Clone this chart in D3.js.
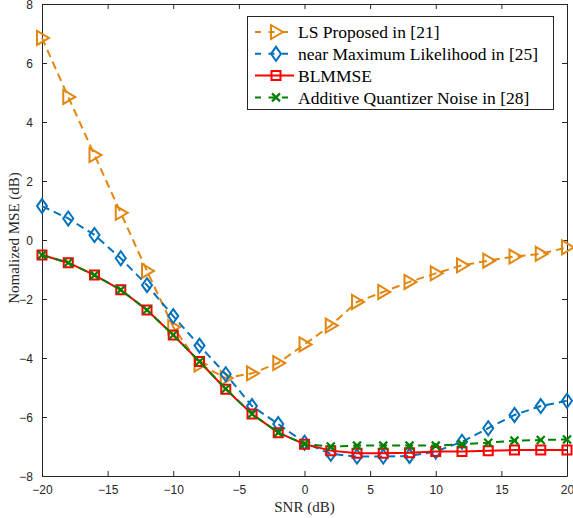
<!DOCTYPE html>
<html><head><meta charset="utf-8">
<script src="https://cdn.jsdelivr.net/npm/d3@7"></script>
<style>body{margin:0;background:#fff;} svg{display:block;}</style>
</head><body>
<svg id="c" width="573" height="518"></svg>
<script>
const snr = [-20,-18,-16,-14,-12,-10,-8,-6,-4,-2,0,2,4,6,8,10,12,14,16,18,20];
const lsProposed = [6.85,4.85,2.88,0.92,-1.05,-2.95,-4.22,-4.68,-4.52,-4.17,-3.54,-2.9,-2.1,-1.76,-1.42,-1.13,-0.86,-0.70,-0.56,-0.47,-0.25];
const nearML = [1.15,0.73,0.17,-0.62,-1.53,-2.58,-3.58,-4.55,-5.63,-6.24,-6.87,-7.25,-7.34,-7.34,-7.32,-7.17,-6.84,-6.38,-5.93,-5.63,-5.45];
const blmmse = [-0.51,-0.77,-1.19,-1.69,-2.37,-3.22,-4.12,-5.06,-5.9,-6.53,-6.92,-7.14,-7.23,-7.23,-7.21,-7.17,-7.17,-7.14,-7.12,-7.12,-7.12];
const aqn = [-0.51,-0.77,-1.19,-1.69,-2.37,-3.22,-4.12,-5.04,-5.9,-6.53,-6.92,-7.0,-6.97,-6.97,-6.97,-6.97,-6.92,-6.87,-6.8,-6.78,-6.76];
const xTicks = [-20,-15,-10,-5,0,5,10,15,20];
const yTicks = [-8,-6,-4,-2,0,2,4,6,8];
const seriesNames = ["LS Proposed in [21]","near Maximum Likelihood in [25]","BLMMSE","Additive Quantizer Noise in [28]"];

const svg = d3.select("#c");
const L=42, R=567, T=4, B=476;
const x = d3.scaleLinear().domain([-20,20]).range([L,R]);
const y = d3.scaleLinear().domain([-8,8]).range([B,T]);
const axisColor = "#262626";

const gx = svg.append("g").attr("transform",`translate(0,${B})`)
  .call(d3.axisBottom(x).tickValues(xTicks).tickSizeInner(-5).tickSizeOuter(0).tickPadding(9).tickFormat(d3.format("d")));
const gxt = svg.append("g").attr("transform",`translate(0,${T})`)
  .call(d3.axisTop(x).tickValues(xTicks).tickSizeInner(-5).tickSizeOuter(0).tickFormat(""));
const gy = svg.append("g").attr("transform",`translate(${L},0)`)
  .call(d3.axisLeft(y).tickValues(yTicks).tickSizeInner(-5).tickSizeOuter(0).tickPadding(9).tickFormat(d3.format("d")));
const gyr = svg.append("g").attr("transform",`translate(${R},0)`)
  .call(d3.axisRight(y).tickValues(yTicks).tickSizeInner(-5).tickSizeOuter(0).tickFormat(""));
[gx,gxt,gy,gyr].forEach(g=>{
  g.selectAll("path,line").attr("stroke",axisColor).attr("stroke-width",1);
  g.selectAll("text").attr("fill",axisColor).attr("font-family","Liberation Sans, Arial, sans-serif").attr("font-size",12);
});
gy.selectAll("text").attr("dy","0.35em");

svg.append("text").attr("x",(L+R)/2).attr("y",512).attr("text-anchor","middle")
  .attr("font-family","Liberation Serif, Times New Roman, serif").attr("font-size",15).attr("fill",axisColor).text("SNR (dB)");
svg.append("text").attr("transform",`translate(19,238) rotate(-90)`).attr("text-anchor","middle")
  .attr("font-family","Liberation Serif, Times New Roman, serif").attr("font-size",15).attr("fill",axisColor).text("Nomalized MSE (dB)");

const series = [
  {name:seriesNames[0], vals:lsProposed, color:"#E3860F", dash:"8,5", marker:"tri"},
  {name:seriesNames[1], vals:nearML, color:"#0072BD", dash:"8,5", marker:"dia"},
  {name:seriesNames[2], vals:blmmse, color:"#FF0000", dash:null, marker:"sq"},
  {name:seriesNames[3], vals:aqn, color:"#008000", dash:"8,5", marker:"x"}
];
function drawMarker(g, type, cx, cy, color){
  const m = g.append("path").attr("fill","none").attr("stroke",color).attr("stroke-width",2).attr("stroke-linejoin","miter");
  if(type==="tri"){ m.attr("d",`M${cx-5},${cy-7}L${cx+7},${cy}L${cx-5},${cy+7}Z`); }
  else if(type==="dia"){ m.attr("d",`M${cx},${cy-7}L${cx+5},${cy}L${cx},${cy+7}L${cx-5},${cy}Z`); }
  else if(type==="sq"){ m.attr("d",`M${cx-4.5},${cy-4.5}h9v9h-9Z`); }
  else if(type==="x"){ m.attr("d",`M${cx-4},${cy-4}L${cx+4},${cy+4}M${cx-4},${cy+4}L${cx+4},${cy-4}`).attr("stroke-width",2.2); }
}
const line = d3.line().x((d,i)=>x(snr[i])).y(d=>y(d));
series.forEach(s=>{
  const g = svg.append("g");
  g.append("path").datum(s.vals).attr("d",line).attr("fill","none").attr("stroke",s.color)
    .attr("stroke-width",2).attr("stroke-dasharray",s.dash);
  s.vals.forEach((v,i)=>drawMarker(g,s.marker,x(snr[i]),y(v),s.color));
});

const lg = svg.append("g");
lg.append("rect").attr("x",247.5).attr("y",16.5).attr("width",306).attr("height",93)
  .attr("fill","#fff").attr("stroke",axisColor).attr("stroke-width",1);
series.forEach((s,i)=>{
  const cy = 32 + i*21.8;
  lg.append("line").attr("x1",255).attr("x2",294).attr("y1",cy).attr("y2",cy)
    .attr("stroke",s.color).attr("stroke-width",2).attr("stroke-dasharray",s.dash?"6,7.5":null);
  drawMarker(lg,s.marker,276,cy,s.color);
  lg.append("text").attr("x",298).attr("y",cy).attr("dy","0.35em")
    .attr("font-family","Liberation Serif, Times New Roman, serif").attr("font-size",17.5).attr("fill","#000").text(s.name);
});
</script>
</body></html>
